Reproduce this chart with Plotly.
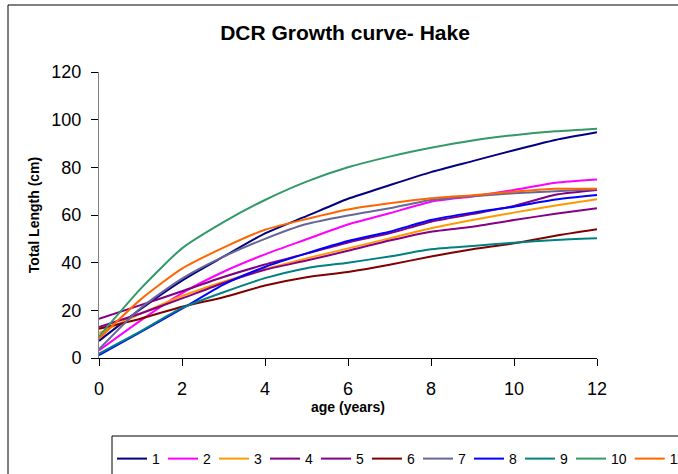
import plotly.graph_objects as go

age = [0, 1, 2, 3, 4, 5, 6, 7, 8, 9, 10, 11, 12]

s1 = [7.2, 20.5, 32.5, 42.5, 52.3, 59.5, 66.8, 72.5, 78.0, 82.6, 87.2, 91.5, 94.7]
s2 = [3.2, 15.7, 27.2, 36.2, 43.5, 49.8, 56.0, 60.7, 65.6, 67.8, 70.5, 73.5, 74.9]
s3 = [10.5, 18.5, 26.0, 32.0, 37.3, 41.8, 46.0, 50.2, 54.4, 57.9, 61.0, 64.0, 66.6]
s4 = [16.4, 22.2, 28.0, 34.0, 39.2, 43.8, 48.5, 52.3, 57.2, 60.4, 63.8, 68.5, 70.5]
s5 = [13.0, 18.7, 25.0, 31.5, 37.0, 40.9, 45.0, 49.3, 53.0, 55.1, 57.9, 60.5, 62.8]
s6 = [12.3, 16.5, 21.5, 25.5, 30.4, 33.9, 36.1, 39.1, 42.6, 45.6, 48.1, 51.3, 54.0]
s7 = [3.7, 20.9, 33.3, 42.5, 50.0, 56.2, 59.8, 62.8, 66.3, 67.9, 69.1, 70.0, 70.8]
s8 = [1.2, 10.9, 20.7, 30.8, 38.2, 43.9, 49.1, 53.0, 57.9, 61.0, 63.5, 66.5, 68.4]
s9 = [1.8, 11.2, 21.0, 27.6, 33.5, 37.7, 40.0, 42.6, 45.6, 47.0, 48.4, 49.5, 50.2]
s10 = [9.0, 29.0, 46.0, 57.0, 66.3, 74.0, 80.0, 84.5, 88.2, 91.3, 93.5, 95.1, 96.2]
s11 = [8.1, 24.5, 37.5, 46.3, 53.8, 58.3, 62.3, 64.9, 67.0, 68.3, 69.8, 71.0, 71.0]

names = ["1", "2", "3", "4", "5", "6", "7", "8", "9", "10", "11"]
series = [s1, s2, s3, s4, s5, s6, s7, s8, s9, s10, s11]
colors = ["#000080", "#FF00FF", "#FF9900", "#800080", "#850085", "#800000",
          "#666699", "#0000FF", "#008080", "#339966", "#FF6600"]

FONT = "Arial, Liberation Sans, sans-serif"

fig = go.Figure()
for i, (nm, ys, c) in enumerate(zip(names, series, colors)):
    fig.add_trace(go.Scatter(
        x=age, y=ys, name=nm, mode="lines",
        line=dict(color=c, width=2, shape="spline", smoothing=0.6),
        legend="legend" if i < 5 else "legend2",
    ))

# plot area: x 99..597, y 72..358 (px)
L, R, T, B = 99, 81, 72, 116
W, H = 678, 474
pw = W - L - R
ph = H - T - B


def px_x(p):
    return (p - L) / pw


def px_y(p):
    return (H - B - p) / ph


leg_common = dict(orientation="h", xanchor="left", yanchor="top",
                  font=dict(family=FONT, size=14, color="black"),
                  bgcolor="rgba(0,0,0,0)", borderwidth=0, indentation=-2)

fig.update_layout(
    width=W, height=H,
    margin=dict(l=L, r=R, t=T, b=B, autoexpand=False),
    paper_bgcolor="white", plot_bgcolor="white",
    font=dict(family=FONT, color="black"),
    title=dict(text="<b>DCR Growth curve- Hake</b>", font=dict(family=FONT, size=21, color="black"),
               x=345 / W, xanchor="center", xref="container",
               y=1 - 33 / H, yanchor="middle", yref="container"),
    xaxis=dict(range=[0, 12], tickmode="array", tickvals=[0, 2, 4, 6, 8, 10, 12],
               showgrid=False, zeroline=False, showline=True, linecolor="#000000", linewidth=1,
               ticks="outside", ticklen=7, tickcolor="#000000",
               tickfont=dict(family=FONT, size=18, color="black"),
               ticklabelstandoff=7,
               title=dict(text="<b>age (years)</b>", font=dict(family=FONT, size=14, color="black"),
                          standoff=2),
               fixedrange=True),
    yaxis=dict(range=[0, 120], tickmode="array", tickvals=[0, 20, 40, 60, 80, 100, 120],
               showgrid=False, zeroline=False, showline=True, linecolor="#808080", linewidth=1,
               ticks="outside", ticklen=7, tickcolor="#000000",
               tickfont=dict(family=FONT, size=18, color="black"),
               ticklabelstandoff=6,
               title=dict(text="<b>Total Length (cm)</b>", font=dict(family=FONT, size=14, color="black"),
                          standoff=8),
               fixedrange=True),
    legend=dict(x=px_x(114), y=px_y(443), **leg_common),
    legend2=dict(x=px_x(369), y=px_y(443), **leg_common),
    shapes=[
        # chart area border
        dict(type="rect", xref="paper", yref="paper",
             x0=px_x(8), x1=px_x(W + 20), y0=px_y(5), y1=px_y(H + 20),
             line=dict(color="#000000", width=1), fillcolor="rgba(0,0,0,0)", layer="below"),
        # legend box
        dict(type="rect", xref="paper", yref="paper",
             x0=px_x(112), x1=px_x(W + 20), y0=px_y(436), y1=px_y(H + 20),
             line=dict(color="#000000", width=1), fillcolor="rgba(0,0,0,0)", layer="above"),
    ],
    showlegend=True,
)

fig.write_html("out.html", config={"displayModeBar": False},
               post_script="document.body.style.margin='0';document.body.style.overflow='hidden';")
